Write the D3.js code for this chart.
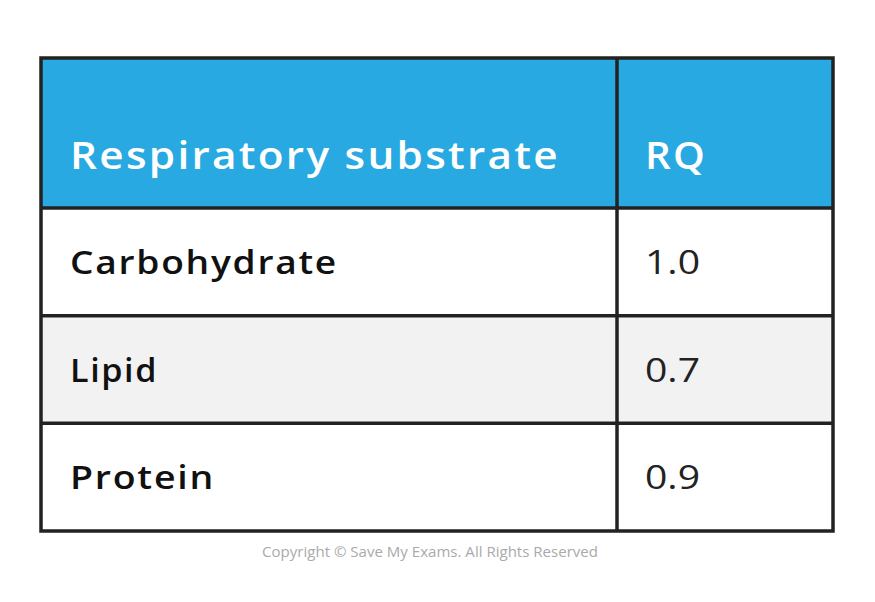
<!DOCTYPE html>
<html><head><meta charset="utf-8">
<script src="https://cdn.jsdelivr.net/npm/d3@7/dist/d3.min.js"></script>
<style>body{margin:0;background:#fff}</style></head>
<body><svg id="c" width="875" height="602"></svg>
<script>
const headers = ["Respiratory substrate", "RQ"];
const substrates = ["Carbohydrate", "Lipid", "Protein"];
const rqValues = ["1.0", "0.7", "0.9"];

// layout widths of text (styling only)
const headerWidths = [490, 62];
const subWidths = [268, 88, 145];
const valWidth = 55;

const svg = d3.select("#c");
const x0 = 41, x1 = 833, xDiv = 617;
const headerTop = 58, headerBottom = 208, bottom = 531;
const y = d3.scaleBand().domain(substrates).range([headerBottom, bottom]);
const font = "'Open Sans', sans-serif";

svg.append("rect").attr("x", x0).attr("y", headerTop).attr("width", x1 - x0).attr("height", headerBottom - headerTop).attr("fill", "#29A9E1");
svg.selectAll("rect.row").data(substrates).join("rect").attr("class", "row")
  .attr("x", x0).attr("y", d => y(d)).attr("width", x1 - x0).attr("height", y.bandwidth())
  .attr("fill", (d, i) => i === 1 ? "#f2f2f2" : "#fff");

svg.selectAll("text.h").data(headers).join("text").attr("class", "h")
  .attr("x", (d, i) => i === 0 ? 70 : 645).attr("y", 169)
  .attr("font-family", font).attr("font-size", 37).attr("fill", "#fff").attr("font-weight", 600)
  .attr("letter-spacing", 2)
  .attr("textLength", (d, i) => headerWidths[i]).attr("lengthAdjust", "spacingAndGlyphs")
  .text(d => d);
svg.selectAll("text.s").data(substrates).join("text").attr("class", "s")
  .attr("x", 70).attr("y", d => y(d) + y.bandwidth() / 2 + 12)
  .attr("font-family", font).attr("font-size", 32).attr("font-weight", 600).attr("fill", "#111")
  .attr("letter-spacing", 1.5)
  .attr("textLength", (d, i) => subWidths[i]).attr("lengthAdjust", "spacingAndGlyphs")
  .text(d => d);
svg.selectAll("text.v").data(rqValues).join("text").attr("class", "v")
  .attr("x", 645).attr("y", (d, i) => y(substrates[i]) + y.bandwidth() / 2 + 12)
  .attr("font-family", font).attr("font-size", 32).attr("fill", "#222")
  .attr("textLength", valWidth).attr("lengthAdjust", "spacingAndGlyphs")
  .text(d => d);

const stroke = "#222", sw = 3.5;
svg.append("rect").attr("x", x0).attr("y", headerTop).attr("width", x1 - x0).attr("height", bottom - headerTop)
  .attr("fill", "none").attr("stroke", stroke).attr("stroke-width", sw);
svg.append("line").attr("x1", xDiv).attr("x2", xDiv).attr("y1", headerTop).attr("y2", bottom).attr("stroke", stroke).attr("stroke-width", sw);
svg.selectAll("line.r").data(substrates).join("line").attr("class", "r")
  .attr("x1", x0).attr("x2", x1).attr("y1", d => y(d)).attr("y2", d => y(d)).attr("stroke", stroke).attr("stroke-width", sw);

svg.append("text").attr("x", 262).attr("y", 557)
  .attr("font-family", font).attr("font-size", 15).attr("fill", "#aaa")
  .attr("textLength", 336).attr("lengthAdjust", "spacingAndGlyphs")
  .text("Copyright © Save My Exams. All Rights Reserved");
</script></body></html>
